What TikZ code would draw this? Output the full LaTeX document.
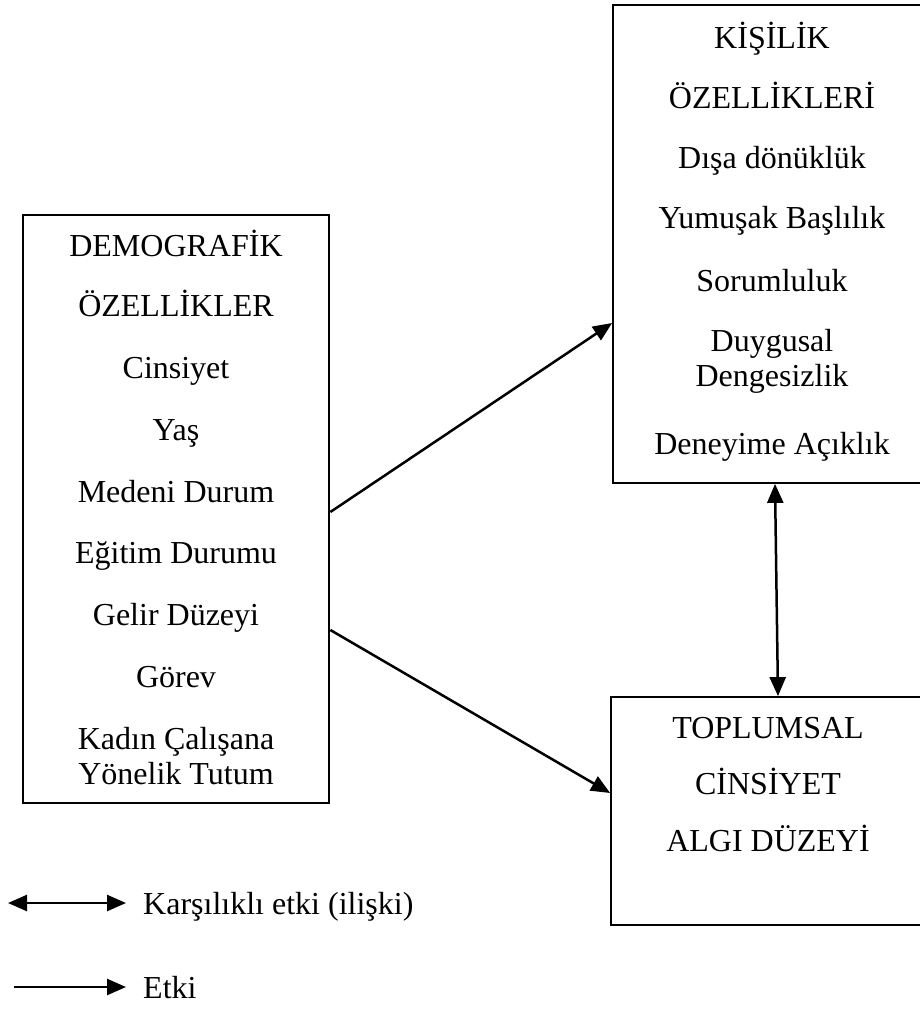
\documentclass[tikz,border=0pt]{standalone}
\usepackage{fontspec}
\setmainfont{Liberation Serif}
\usetikzlibrary{arrows.meta,calc}
\begin{document}
\begin{tikzpicture}[x=1pt,y=-1pt,
  txt/.style={font=\fontsize{32}{38}\selectfont, inner sep=0pt, anchor=base},
  lbl/.style={font=\fontsize{32}{38}\selectfont, inner sep=0pt, anchor=base west},
  thickbox/.style={draw, line width=2.7pt, inner sep=0pt},
  thinbox/.style={draw, line width=1.8pt, inner sep=0pt},
  arr/.style={line width=2.5pt, -{Triangle[length=19pt,width=16pt]}},
  darr/.style={line width=2.5pt, {Triangle[length=19pt,width=16pt]}-{Triangle[length=19pt,width=16pt]}}]
\useasboundingbox (0,0) rectangle (920,1009);
% boxes
\node[thickbox, minimum width=306pt, minimum height=588pt] (L) at (176,509) {};
\node[thinbox, minimum width=327pt, minimum height=478pt] (K) at (776.5,244) {};
\node[thinbox, minimum width=329pt, minimum height=228pt] (T) at (775.5,811) {};
% left box text
\node[txt] (l1) at (176,256) {DEMOGRAFİK};
\node[txt] (l2) at (176,316) {ÖZELLİKLER};
\node[txt] (l3) at (176,378) {Cinsiyet};
\node[txt] (l4) at (176,440) {Yaş};
\node[txt] (l5) at (176,502) {Medeni Durum};
\node[txt] (l6) at (176,563) {Eğitim Durumu};
\node[txt] (l7) at (176,625) {Gelir Düzeyi};
\node[txt] (l8) at (176,687) {Görev};
\node[txt] (l9) at (176,749) {Kadın Çalışana};
\node[txt] (l10) at (176,784) {Yönelik Tutum};
% top right text
\node[txt] (k1) at (772,48) {KİŞİLİK};
\node[txt] (k2) at (772,108) {ÖZELLİKLERİ};
\node[txt] (k3) at (772,168) {Dışa dönüklük};
\node[txt] (k4) at (772,228) {Yumuşak Başlılık};
\node[txt] (k5) at (772,291) {Sorumluluk};
\node[txt] (k6) at (772,351) {Duygusal};
\node[txt] (k7) at (772,386) {Dengesizlik};
\node[txt] (k8) at (772,454) {Deneyime Açıklık};
% bottom right text
\node[txt] (t1) at (768,738) {TOPLUMSAL};
\node[txt] (t2) at (768,794) {CİNSİYET};
\node[txt] (t3) at (768,851) {ALGI DÜZEYİ};
% connectors
\draw[arr] (L.east |- 0,512) -- (K.west |- 0,323);
\draw[arr] (L.east |- 0,630) -- (T.west |- 0,793);
\draw[darr] (K.south -| 775,0) -- (T.north -| 778,0);
% legend
\coordinate (d1) at (8,903);
\coordinate (d2) at (126,903);
\coordinate (s1) at (14,987);
\coordinate (s2) at (126,987);
\draw[darr] (d1) -- (d2);
\draw[arr] (s1) -- (s2);
\node[lbl] (g1) at (143,914) {Karşılıklı etki (ilişki)};
\node[lbl] (g2) at (143,998) {Etki};
\end{tikzpicture}
\end{document}
